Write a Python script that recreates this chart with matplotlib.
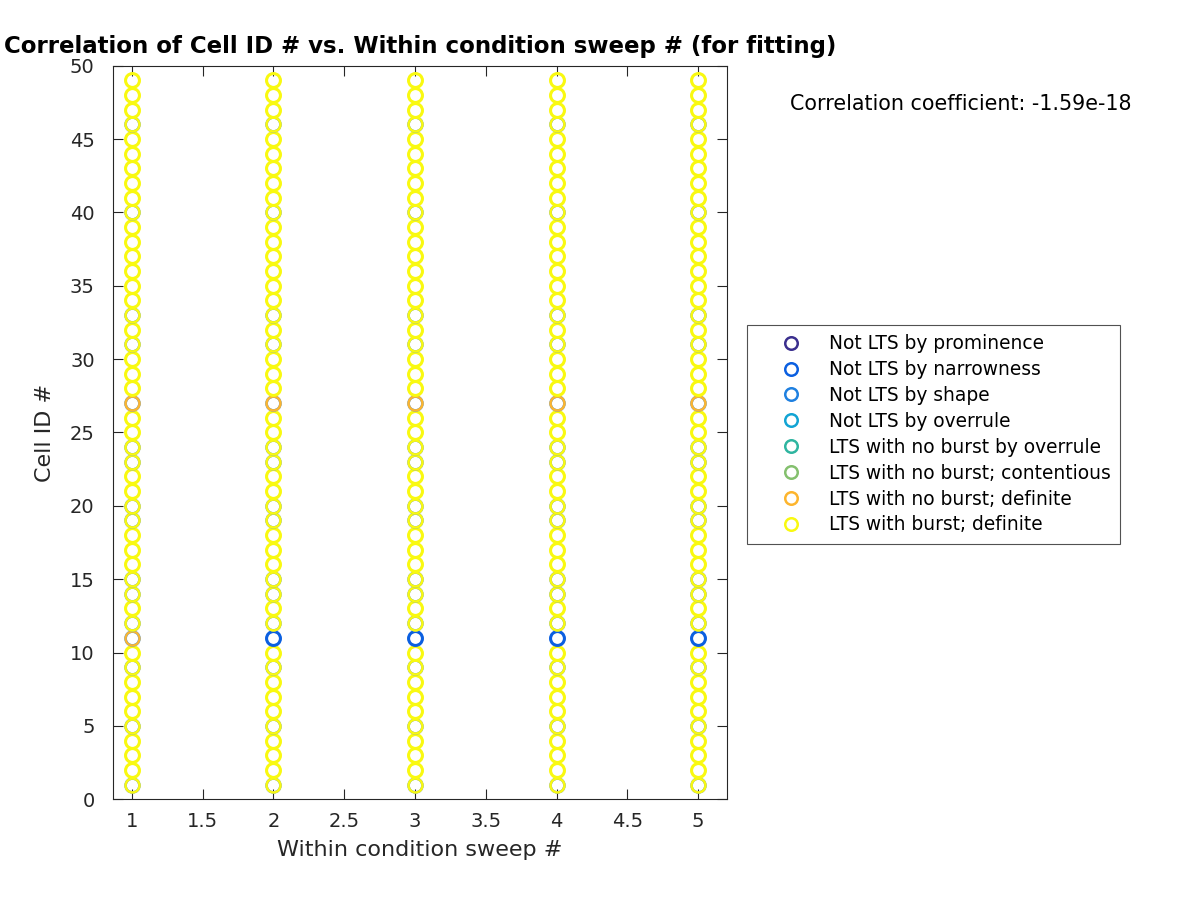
import matplotlib
matplotlib.use('Agg')
import matplotlib.pyplot as plt
from matplotlib.lines import Line2D

# --- data ---
sweeps = [1, 2, 3, 4, 5]
cell_ids = list(range(1, 50))

categories = ['Not LTS by prominence', 'Not LTS by narrowness', 'Not LTS by shape',
              'Not LTS by overrule', 'LTS with no burst by overrule',
              'LTS with no burst; contentious', 'LTS with no burst; definite',
              'LTS with burst; definite']
cat_colors = ['#3b2f8e', '#0b5fe0', '#1f80e0', '#12a4d4', '#2fb5a0',
              '#84c06e', '#fdb52e', '#f9f910']

# cells whose yellow circles sit over other (bluish) classifications
mixed_cells = [1, 5, 9, 12, 14, 15, 19, 20, 23, 24, 31, 33, 40, 46]
orange_cells = [27]          # LTS with no burst; definite at every sweep
narrow_cell = 11             # Not LTS by narrowness for sweeps 2-5
narrow_sweeps = [2, 3, 4, 5]
corr_coef = -1.59e-18

fig = plt.figure(figsize=(12, 9), dpi=100)
ax = fig.add_axes([0.094, 0.112, 0.512, 0.815])

ms = 10
under = '#6f9fc4'
for s in sweeps:
    for c in cell_ids:
        if c in orange_cells:
            ax.plot(s, c, 'o', ms=ms, mfc='none', mec=under, mew=2.0)
            ax.plot(s, c, 'o', ms=ms, mfc='none', mec=cat_colors[6], mew=1.7)
        elif c == narrow_cell and s in narrow_sweeps:
            ax.plot(s, c, 'o', ms=ms, mfc='none', mec=cat_colors[1], mew=2.2)
        elif c == narrow_cell:
            ax.plot(s, c, 'o', ms=ms, mfc='none', mec=under, mew=2.0)
            ax.plot(s, c, 'o', ms=ms, mfc='none', mec=cat_colors[6], mew=1.5)
        elif c in mixed_cells:
            ax.plot(s, c, 'o', ms=ms, mfc='none', mec=under, mew=1.9)
            ax.plot(s, c, 'o', ms=ms, mfc='none', mec=cat_colors[7], mew=1.75)
        else:
            ax.plot(s, c, 'o', ms=ms, mfc='none', mec=cat_colors[7], mew=2.2)

ax.set_xlim(0.866, 5.205)
ax.set_ylim(0, 50)
ax.set_xticks([1, 1.5, 2, 2.5, 3, 3.5, 4, 4.5, 5])
ax.set_xticklabels(['1', '1.5', '2', '2.5', '3', '3.5', '4', '4.5', '5'])
ax.set_yticks(range(0, 51, 5))

dark = '#262626'
for sp in ax.spines.values():
    sp.set_color(dark)
    sp.set_linewidth(0.8)
ax.tick_params(direction='in', top=True, right=True, length=7, width=0.8,
               colors=dark, labelsize=14)
ax.tick_params(axis='y', pad=13)
ax.tick_params(axis='x', pad=9)

ax.set_xlabel('Within condition sweep #', fontsize=16, color=dark, labelpad=7)
ax.set_ylabel('Cell ID #', fontsize=16, color=dark, labelpad=11)
ax.set_title('Correlation of Cell ID # vs. Within condition sweep # (for fitting)',
             fontsize=16.5, fontweight='bold', pad=9)

fig.text(0.658, 0.885, 'Correlation coefficient: {:.3g}'.format(corr_coef),
         fontsize=14.9, ha='left', va='center')

handles = [Line2D([], [], ls='none', marker='o', ms=9, mfc='none', mec=col, mew=1.8)
           for col in cat_colors]
leg = fig.legend(handles, categories, loc='upper left', bbox_to_anchor=(0.6225, 0.639),
                 borderaxespad=0, frameon=True, fancybox=False, fontsize=13.4,
                 handletextpad=0.2, borderpad=0.5, labelspacing=0.37,
                 handlelength=3.7)
leg.get_frame().set_edgecolor(dark)
leg.get_frame().set_linewidth(0.8)

fig.savefig('out.png', dpi=100)
